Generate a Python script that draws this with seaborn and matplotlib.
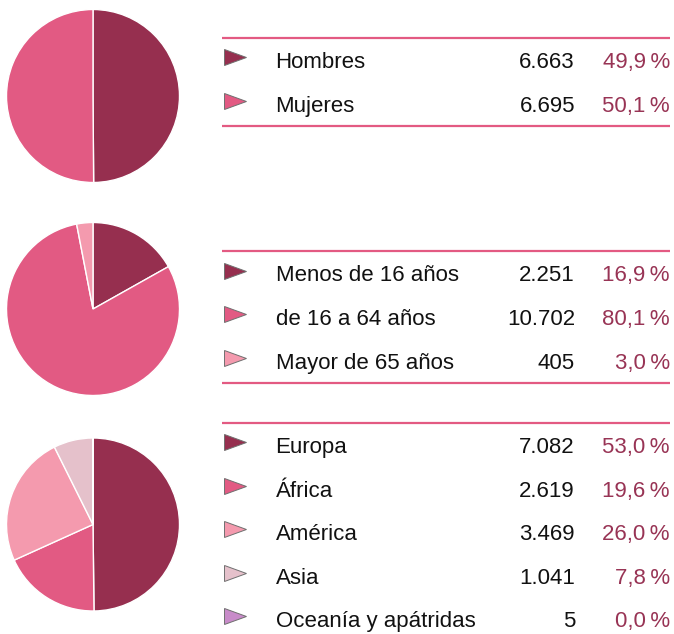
import matplotlib
matplotlib.use("Agg")
import matplotlib.pyplot as plt
import seaborn as sns
from matplotlib.markers import MarkerStyle
from matplotlib.transforms import Affine2D

# ---------------- data ----------------
sex_labels = ["Hombres", "Mujeres"]
sex_counts = [6663, 6695]
sex_pcts = [49.9, 50.1]

age_labels = ["Menos de 16 años", "de 16 a 64 años", "Mayor de 65 años"]
age_counts = [2251, 10702, 405]
age_pcts = [16.9, 80.1, 3.0]

origin_labels = ["Europa", "África", "América", "Asia", "Oceanía y apátridas"]
origin_counts = [7082, 2619, 3469, 1041, 5]
origin_pcts = [53.0, 19.6, 26.0, 7.8, 0.0]

# ---------------- style ----------------
sns.set_theme(style="white")
plt.rcParams["font.family"] = ["Liberation Sans", "DejaVu Sans"]

palette = sns.color_palette(["#962F4F", "#E25A83", "#F49AAE", "#E5C1CB", "#C88BC9"])
line_color = "#E35A82"
pct_color = "#983455"

W, H = 674, 634
fig = plt.figure(figsize=(W / 100, H / 100), dpi=100)

groups = [
    dict(labels=sex_labels, counts=sex_counts, pcts=sex_pcts, cy=96, top=37.5, bottom=True),
    dict(labels=age_labels, counts=age_counts, pcts=age_pcts, cy=309, top=251, bottom=True),
    dict(labels=origin_labels, counts=origin_counts, pcts=origin_pcts, cy=524.5, top=422.5, bottom=False),
]

cx, r = 93, 86.5
row_off, row_step, bot_off = 22.5, 43.6, 22.0
x_line0, x_line1 = 222, 670
x_tri, x_lab, x_cnt, x_pct = 234.5, 275.5, 575, 670
fs = 16
cap_half = 0.716 * fs * 100 / 72 / 2

tri = MarkerStyle(">", transform=Affine2D().scale(1.0, 0.66))


def fmt_int(n):
    return f"{n:,}".replace(",", ".")


def fmt_pct(p):
    return f"{p:.1f}".replace(".", ",") + "\u2009%"


# overlay axes in pixel coordinates for the tables
tab = fig.add_axes([0, 0, 1, 1])
tab.set_xlim(0, W)
tab.set_ylim(H, 0)
tab.axis("off")

for g in groups:
    n = len(g["labels"])
    # pie
    pax = fig.add_axes([(cx - r) / W, 1 - (g["cy"] + r) / H, 2 * r / W, 2 * r / H])
    pax.pie(g["counts"], colors=palette[:n], startangle=90, counterclock=False,
            wedgeprops=dict(edgecolor="white", linewidth=1.0))
    pax.set_xlim(-1, 1)
    pax.set_ylim(-1, 1)
    pax.axis("off")

    # table lines
    tab.plot([x_line0, x_line1], [g["top"], g["top"]], color=line_color, lw=1.6,
             solid_capstyle="butt")
    ys = [g["top"] + row_off + i * row_step for i in range(n)]
    if g["bottom"]:
        yb = ys[-1] + bot_off
        tab.plot([x_line0, x_line1], [yb, yb], color=line_color, lw=1.6,
                 solid_capstyle="butt")

    for i, (lab, cnt, pct) in enumerate(zip(g["labels"], g["counts"], g["pcts"])):
        y = ys[i]
        tab.plot([x_tri], [y - 3], marker=tri, ms=16.5, color=palette[i],
                 markeredgecolor="#707070", markeredgewidth=0.7, linestyle="none")
        tab.text(x_lab, y + cap_half, lab, fontsize=fs, color="#111111",
                 ha="left", va="baseline")
        tab.text(x_cnt, y + cap_half, fmt_int(cnt), fontsize=fs, color="#111111",
                 ha="right", va="baseline")
        tab.text(x_pct, y + cap_half, fmt_pct(pct), fontsize=fs, color=pct_color,
                 ha="right", va="baseline")

fig.savefig("out.png", dpi=100)
